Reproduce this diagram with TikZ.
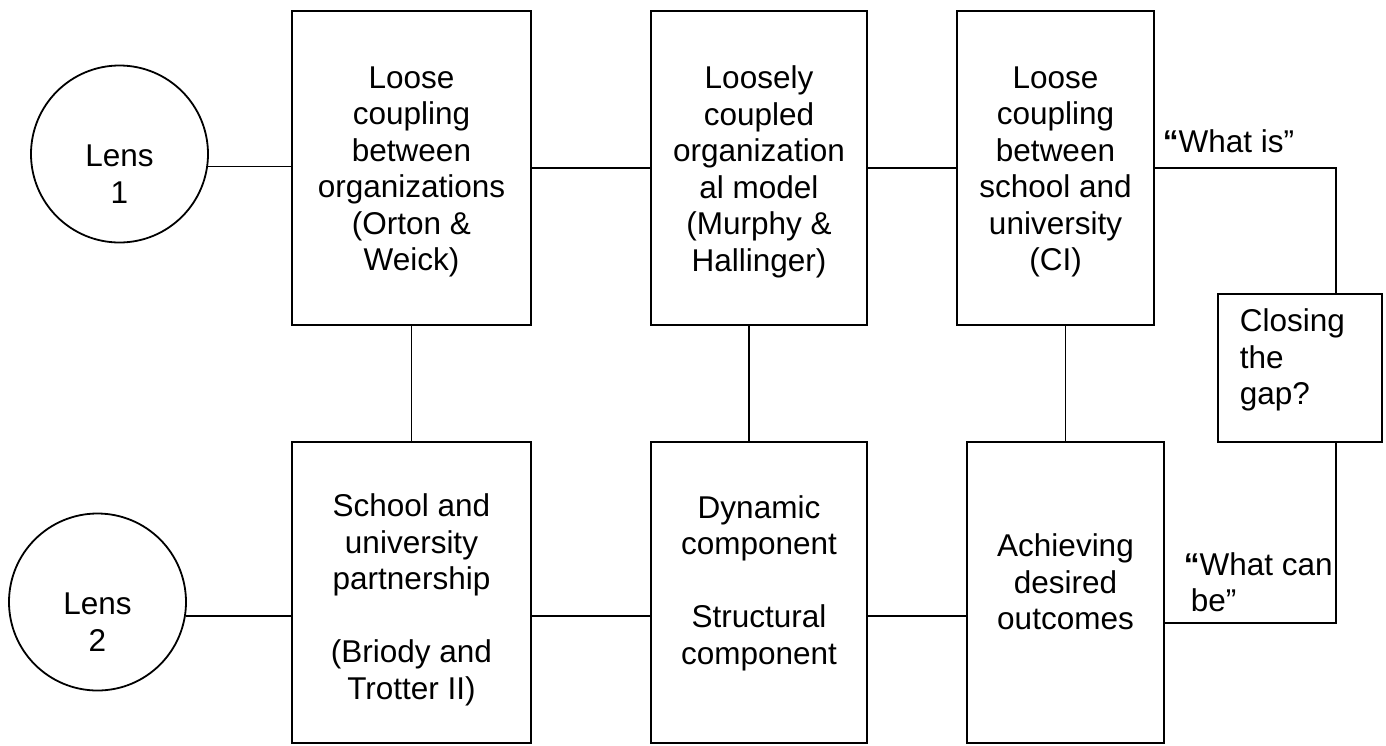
\documentclass[tikz,border=0pt]{standalone}
\usepackage{fontspec}
\setmainfont{Liberation Sans}
\usetikzlibrary{calc}
\begin{document}
\begin{tikzpicture}[x=1pt,y=-1pt,
  line width=1.8pt,
  box/.style={draw, rectangle, inner sep=0pt},
  upper/.style={box, minimum height=314pt},
  lower/.style={box, minimum height=301pt},
  lens/.style={draw, circle, inner sep=0pt, minimum size=177pt},
  txt/.style={align=center, inner sep=0pt, font=\fontsize{31.5}{36.5}\selectfont},
  lbl/.style={align=left, inner sep=0pt, anchor=west, font=\fontsize{31.5}{36.5}\selectfont}]
\useasboundingbox (0,0) rectangle (1386,745);

% lenses
\node[lens] (lens1) at (119.5,154) {};
\node[lens] (lens2) at (97.5,602) {};
\node[txt] (lens1t) at (119.5,174) {Lens\\1};
\node[txt] (lens2t) at (97.5,622) {Lens\\2};

% upper row
\node[upper, minimum width=239pt] (b1) at (411.5,168) {};
\node[upper, minimum width=216pt] (b2) at (759,168) {};
\node[upper, minimum width=197pt] (b3) at (1055.5,168) {};

% lower row
\node[lower, minimum width=239pt] (c1) at (411.5,592.5) {};
\node[lower, minimum width=216pt] (c2) at (759,592.5) {};
\node[lower, minimum width=197pt] (c3) at (1065.5,592.5) {};

% gap box
\node[box, minimum width=164pt, minimum height=148pt] (gap) at (1300,368) {};

% box texts
\node[txt] (b1t) at (411.5,172) {Loose\\coupling\\between\\organizations\\(Orton \&\\Weick)};
\node[txt] (b2t) at (759,172) {Loosely\\coupled\\organization\\al model\\(Murphy \&\\Hallinger)};
\node[txt] (b3t) at (1055.5,172) {Loose\\coupling\\between\\school and\\university\\(CI)};
\node[txt] (c1t) at (411.5,600) {School and\\university\\partnership\\~\\(Briody and\\Trotter II)};
\node[txt] (c2t) at (759,583) {Dynamic\\component\\~\\Structural\\component};
\node[txt] (c3t) at (1065.5,582) {Achieving\\desired\\outcomes};
\node[lbl] (gapt) at (1239,360) {Closing\\the\\gap?};
\node[lbl] (whatis) at (1162,141) {\textbf{“}What is”};
\node[lbl] (whatcan) at (1183,582) {\textbf{“}What can\\\hspace*{7pt}be”};

% routing points
\coordinate (riser) at (1336,168);
\coordinate (drop) at (1336,623);
\coordinate (lowrow) at (0,616);

% connectors
\draw (lens1.-8.4) -- (lens1.-8.4 -| b1.west);
\draw (lens2.-9.1) -- (lens2.-9.1 -| c1.west);
\draw (b1.east) -- (b2.west);
\draw (b2.east) -- (b3.west);
\draw (b3.east) -- (riser) -- (riser |- gap.north);
\draw (drop |- gap.south) -- (drop) -- (drop -| c3.east);
\draw (b1.south) -- (c1.north);
\draw ([xshift=-10pt]b2.south) -- ([xshift=-10pt]c2.north);
\draw (b3.south -| c3.north) -- (c3.north);
\draw (c1.east |- lowrow) -- (c2.west |- lowrow);
\draw (c2.east |- lowrow) -- (c3.west |- lowrow);
\end{tikzpicture}
\end{document}
